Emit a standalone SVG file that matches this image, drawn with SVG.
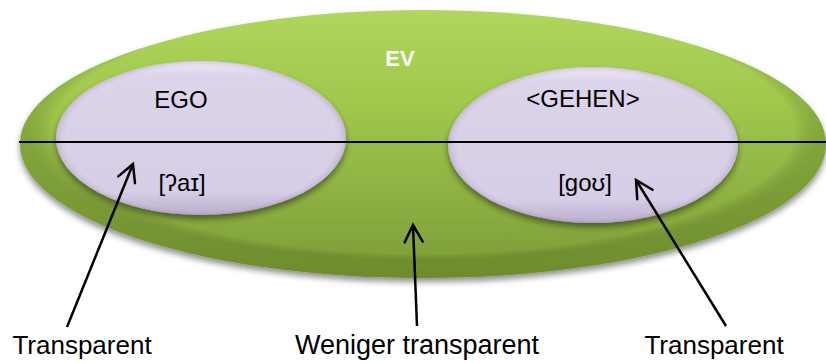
<svg xmlns="http://www.w3.org/2000/svg" width="826" height="363" viewBox="0 0 826 363">
  <defs>
    <linearGradient id="gGreen" x1="0" y1="0" x2="0" y2="1">
      <stop offset="0" stop-color="#b0d65c"/>
      <stop offset="0.35" stop-color="#a0c84c"/>
      <stop offset="0.75" stop-color="#8bad40"/>
      <stop offset="1" stop-color="#7a9a35"/>
    </linearGradient>
    <radialGradient id="gGreenRim" cx="0.5" cy="0.45" r="0.5">
      <stop offset="0.92" stop-color="#000" stop-opacity="0"/>
      <stop offset="1" stop-color="#4f6a1c" stop-opacity="0.3"/>
    </radialGradient>
    <linearGradient id="gLav" x1="0" y1="0" x2="0" y2="1">
      <stop offset="0" stop-color="#ece8f4"/>
      <stop offset="0.1" stop-color="#dcd4ea"/>
      <stop offset="0.85" stop-color="#d6cde6"/>
      <stop offset="1" stop-color="#b9aacd"/>
    </linearGradient>
    <radialGradient id="gLavRim" cx="0.5" cy="0.5" r="0.5">
      <stop offset="0.9" stop-color="#fff" stop-opacity="0"/>
      <stop offset="1" stop-color="#8f7fa8" stop-opacity="0.3"/>
    </radialGradient>
    <filter id="shadow" x="-10%" y="-10%" width="120%" height="130%">
      <feGaussianBlur in="SourceAlpha" stdDeviation="3"/>
      <feOffset dx="0" dy="4" result="b"/>
      <feComponentTransfer><feFuncA type="linear" slope="0.45"/></feComponentTransfer>
      <feMerge><feMergeNode/><feMergeNode in="SourceGraphic"/></feMerge>
    </filter>
    <marker id="arrow" markerUnits="userSpaceOnUse" markerWidth="24" markerHeight="24" viewBox="-20 -12 24 24" refX="0" refY="0" orient="auto">
      <path d="M-17,-9 L0,0 L-17,9" fill="none" stroke="#000" stroke-width="2.5" stroke-linecap="round" stroke-linejoin="miter"/>
    </marker>
    <style>
      text { font-family: "Liberation Sans", "DejaVu Sans", sans-serif; fill: #000; text-anchor: middle; }
      .node { font-size: 24px; }
      .ipa { font-size: 24px; }
      .lbl { font-size: 26px; }
      .lblw { font-size: 27px; }
      .ev { font-size: 22px; font-weight: bold; fill: #fff; }
      .arr { fill: none; stroke: #000; stroke-width: 2.5; marker-end: url(#arrow); }
    </style>
  </defs>

  <rect width="826" height="363" fill="#fff"/>

  <g id="node-ev">
    <ellipse cx="423" cy="144" rx="403" ry="134" fill="url(#gGreen)" filter="url(#shadow)"/>
    <ellipse cx="423" cy="144" rx="403" ry="134" fill="url(#gGreenRim)"/>
    <text class="ev" x="400" y="66">EV</text>
  </g>

  <g id="node-ego">
    <ellipse cx="201" cy="138" rx="145" ry="77" fill="url(#gLav)" filter="url(#shadow)"/>
    <ellipse cx="201" cy="138" rx="145" ry="77" fill="url(#gLavRim)"/>
    <text class="node" x="181" y="108">EGO</text>
    <text class="ipa" x="182" y="191">[ʔaɪ]</text>
  </g>

  <g id="node-gehen">
    <ellipse cx="593" cy="145" rx="145" ry="78" fill="url(#gLav)" filter="url(#shadow)"/>
    <ellipse cx="593" cy="145" rx="145" ry="78" fill="url(#gLavRim)"/>
    <text class="node" x="583" y="107">&lt;GEHEN&gt;</text>
    <text class="ipa" x="585" y="191">[goʊ]</text>
  </g>

  <g id="divider">
    <line x1="19" y1="142" x2="826" y2="142" stroke="#000" stroke-width="2"/>
  </g>

  <g id="connectors">
    <line class="arr" x1="67" y1="327" x2="133" y2="164"/>
    <line class="arr" x1="417" y1="326" x2="413" y2="225"/>
    <line class="arr" x1="726" y1="326" x2="636" y2="180"/>
  </g>

  <g id="labels">
    <text class="lbl" x="82" y="354">Transparent</text>
    <text class="lblw" x="417" y="354">Weniger transparent</text>
    <text class="lbl" x="714" y="354">Transparent</text>
  </g>
</svg>
